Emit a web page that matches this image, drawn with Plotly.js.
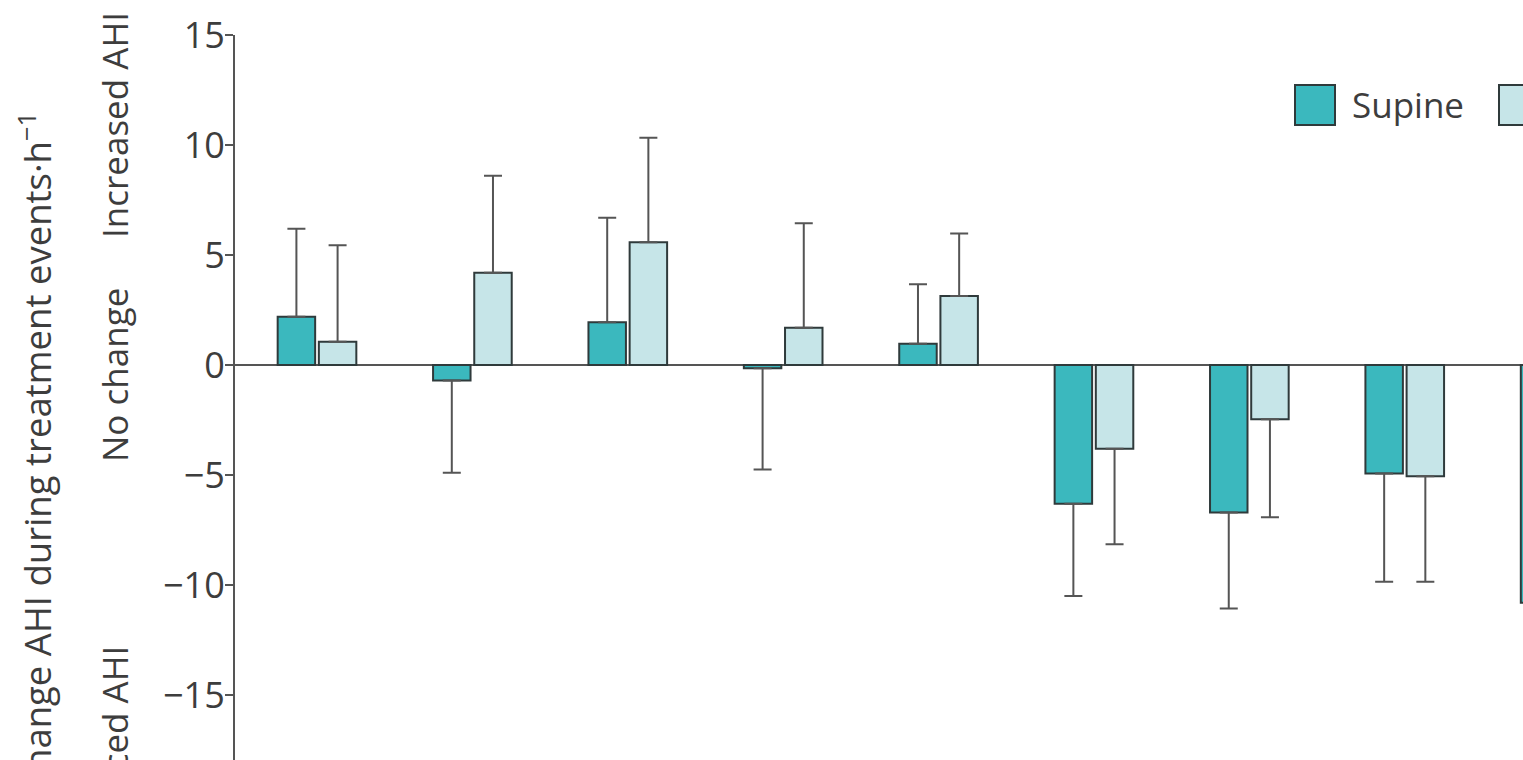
<!DOCTYPE html>
<html>
<head>
<meta charset="utf-8">
<script src="https://cdn.plot.ly/plotly-3.0.1.min.js"></script>
<style>
  html, body { margin: 0; padding: 0; background: #ffffff; }
  #chart { width: 1523px; height: 760px; }
</style>
</head>
<body>
<div id="chart"></div>
<script>
// Group index (x labels are outside the visible crop)
const groups = [1, 2, 3, 4, 5, 6, 7, 8, 9];
// Mean change in AHI, supine position
const supine = [2.2, -0.7, 1.95, -0.15, 0.97, -6.3, -6.7, -4.93, -10.8];
// One-sided SD for supine (drawn away from zero)
const supineErr = [4.0, 4.2, 4.75, 4.6, 2.7, 4.2, 4.37, 4.92, 4.5];
// Mean change in AHI, non-supine position (last group is outside the crop)
const nonSupine = [1.06, 4.2, 5.58, 1.7, 3.14, -3.8, -2.46, -5.05, null];
const nonSupineErr = [4.38, 4.4, 4.75, 4.75, 2.84, 4.35, 4.46, 4.8, null];

const tickVals = [-15, -10, -5, 0, 5, 10, 15];
const legendLabels = ["Supine", "Non-supine"];

const teal = "#3bb8be";
const light = "#c6e5e8";
const edge = "#2f3a3b";
const grey = "#555555";
const textCol = "#3d3d3d";
const FONT = "Open Sans, Noto Sans, sans-serif";

function upErr(v, e) { return v.map((y, i) => (y !== null && y >= 0) ? e[i] : 0); }
function downErr(v, e) { return v.map((y, i) => (y !== null && y < 0) ? e[i] : 0); }

const traces = [
  {
    type: "bar", name: legendLabels[0], x: groups, y: supine,
    marker: { color: teal, line: { color: edge, width: 2 } },
    error_y: { type: "data", symmetric: false, array: upErr(supine, supineErr),
               arrayminus: downErr(supine, supineErr), color: grey, thickness: 2, width: 9 },
    showlegend: false, hoverinfo: "skip"
  },
  {
    type: "bar", name: legendLabels[1], x: groups, y: nonSupine,
    marker: { color: light, line: { color: edge, width: 2 } },
    error_y: { type: "data", symmetric: false, array: upErr(nonSupine, nonSupineErr),
               arrayminus: downErr(nonSupine, nonSupineErr), color: grey, thickness: 2, width: 9 },
    showlegend: false, hoverinfo: "skip"
  }
];

// paper-coordinate helpers (plot area: left 235, top 35, bottom 760, right 1523)
const W = 1523, H = 760, L = 235, T = 35, B = 0;
const px = v => (v - L) / (W - L);
const py = v => (H - B - v) / (H - T - B);

const layout = {
  width: W, height: H,
  margin: { l: L, r: 0, t: T, b: B, pad: 0 },
  paper_bgcolor: "#ffffff", plot_bgcolor: "#ffffff",
  barmode: "group", bargap: 0.47, bargroupgap: 0.09,
  font: { family: FONT, color: textCol },
  showlegend: false,
  xaxis: {
    range: [0.4723, 8.761], showticklabels: false, showgrid: false,
    zeroline: false, showline: false, ticks: ""
  },
  yaxis: {
    range: [-17.95, 15], tickvals: tickVals, showgrid: false,
    zeroline: true, zerolinecolor: grey, zerolinewidth: 2,
    showline: true, linecolor: grey, linewidth: 2,
    ticks: "outside", ticklen: 8, tickwidth: 2, tickcolor: grey,
    tickfont: { family: FONT, size: 36, color: textCol }, ticklabelstandoff: -7
  },
  shapes: [
    { type: "rect", xref: "paper", yref: "paper",
      x0: px(1295), x1: px(1335), y0: py(125), y1: py(85),
      fillcolor: teal, line: { color: edge, width: 2 } },
    { type: "rect", xref: "paper", yref: "paper",
      x0: px(1499), x1: px(1539), y0: py(125), y1: py(85),
      fillcolor: light, line: { color: edge, width: 2 } }
  ],
  annotations: [
    { xref: "paper", yref: "paper", x: px(1350), y: py(105), xanchor: "left", yanchor: "middle",
      text: legendLabels[0], showarrow: false, font: { family: FONT, size: 35, color: textCol } },
    { xref: "paper", yref: "paper", x: px(35), y: py(110), xanchor: "center", yanchor: "top",
      textangle: -90, showarrow: false,
      text: "Change AHI during treatment events·h<sup>−1</sup>",
      font: { family: FONT, size: 36.5, color: textCol } },
    { xref: "paper", yref: "paper", x: px(114), y: py(125), xanchor: "center", yanchor: "middle",
      textangle: -90, showarrow: false, text: "Increased AHI",
      font: { family: FONT, size: 35, color: textCol } },
    { xref: "paper", yref: "paper", x: px(114), y: py(375), xanchor: "center", yanchor: "middle",
      textangle: -90, showarrow: false, text: "No change",
      font: { family: FONT, size: 35, color: textCol } },
    { xref: "paper", yref: "paper", x: px(114), y: py(644), xanchor: "center", yanchor: "top",
      textangle: -90, showarrow: false, text: "Reduced AHI",
      font: { family: FONT, size: 35, color: textCol } }
  ]
};

Plotly.newPlot("chart", traces, layout, { staticPlot: true, displayModeBar: false });
</script>
</body>
</html>
